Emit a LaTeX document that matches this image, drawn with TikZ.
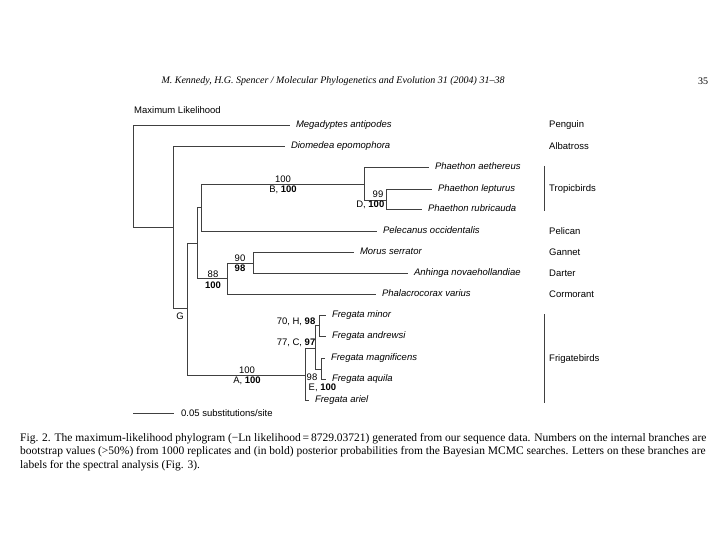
\documentclass[tikz,border=0pt]{standalone}
\usepackage{fontspec}
\setmainfont{Liberation Serif}
\setsansfont{Liberation Sans}
\usetikzlibrary{positioning}

\begin{document}
\begin{tikzpicture}[
    x=1pt, y=-1pt,
    branch/.style={draw=black!75, line width=0.75pt},
    tip/.style={anchor=west, inner sep=1pt, outer xsep=5pt, text height=6.8pt, text depth=2pt,
      font=\sffamily\itshape\fontsize{9.5}{11}\selectfont},
    lbl/.style={inner sep=0.5pt, font=\sffamily\fontsize{9.5}{11}\selectfont},
    group/.style={anchor=west, inner sep=0pt, font=\sffamily\fontsize{9.5}{11}\selectfont},
    bar/.style={draw=black!75, line width=0.8pt}
  ]
  \useasboundingbox[fill=white] (0,0) rectangle (720,540);

  % running head
  \node[font=\itshape\fontsize{10}{12}\selectfont] (head) at (333,81)
    {M. Kennedy, H.G. Spencer / Molecular Phylogenetics and Evolution 31 (2004) 31--38};
  \node[font=\fontsize{10}{12}\selectfont] (page) at (703,81) {35};
  \node[group] (title) at (134,110) {Maximum Likelihood};

  % internal nodes
  \coordinate (root) at (133,227);
  \coordinate (n2) at (173,227);
  \coordinate (nG) at (187,308);
  \coordinate (nCore) at (197,243);
  \coordinate (nTP) at (201,207);
  \coordinate (nB) at (364,184);
  \coordinate (nD) at (386,200);
  \coordinate (nSC) at (227,278);
  \coordinate (nMA) at (253,263);
  \coordinate (nE) at (305,375);
  \coordinate (nC) at (315,348);
  \coordinate (nH) at (319,325);
  \coordinate (nM) at (321,369);

  % tips
  \node[tip] (megad) at (290,125) {Megadyptes antipodes};
  \node[tip] (diom) at (285,146) {Diomedea epomophora};
  \node[tip] (aeth) at (429,167) {Phaethon aethereus};
  \node[tip] (lept) at (432,189) {Phaethon lepturus};
  \node[tip] (rubr) at (422,209) {Phaethon rubricauda};
  \node[tip] (pele) at (377,231) {Pelecanus occidentalis};
  \node[tip] (morus) at (354,252) {Morus serrator};
  \node[tip] (anh) at (408,273) {Anhinga novaehollandiae};
  \node[tip] (phal) at (376,294) {Phalacrocorax varius};
  \node[tip] (minor) at (326,315) {Fregata minor};
  \node[tip] (andr) at (326,336) {Fregata andrewsi};
  \node[tip] (magn) at (325,358) {Fregata magnificens};
  \node[tip] (aquila) at (326,379) {Fregata aquila};
  \node[tip] (ariel) at (309,400) {Fregata ariel};

  % branches
  \draw[branch] (root) |- (megad.west);
  \draw[branch] (root) -- (n2);
  \draw[branch] (n2) |- (diom.west);
  \draw[branch] (n2) |- (nG);
  \draw[branch] (nG) |- (nCore);
  \draw[branch] (nG) |- (nE);
  \draw[branch] (nCore) |- (nTP);
  \draw[branch] (nCore) |- (nSC);
  \draw[branch] (nTP) |- (nB);
  \draw[branch] (nTP) |- (pele.west);
  \draw[branch] (nB) |- (aeth.west);
  \draw[branch] (nB) |- (nD);
  \draw[branch] (nD) |- (lept.west);
  \draw[branch] (nD) |- (rubr.west);
  \draw[branch] (nSC) |- (nMA);
  \draw[branch] (nSC) |- (phal.west);
  \draw[branch] (nMA) |- (morus.west);
  \draw[branch] (nMA) |- (anh.west);
  \draw[branch] (nE) |- (nC);
  \draw[branch] (nE) |- (ariel.west);
  \draw[branch] (nC) |- (nH);
  \draw[branch] (nC) |- (nM);
  \draw[branch] (nH) |- (minor.west);
  \draw[branch] (nH) |- (andr.west);
  \draw[branch] (nM) |- (magn.west);
  \draw[branch] (nM) |- (aquila.west);

  % support values
  \node[lbl] (bsB) at (283,179) {100};
  \node[lbl] (ppB) at (283,190) {B, \textbf{100}};
  \node[lbl,anchor=east] (bsD) at (384,194) {99};
  \node[lbl,anchor=east] (ppD) at (385,205) {D, \textbf{100}};
  \node[lbl] (bsMA) at (240,258) {90};
  \node[lbl] (ppMA) at (240,268) {\textbf{98}};
  \node[lbl] (bsSC) at (213,274) {88};
  \node[lbl] (ppSC) at (213,285) {\textbf{100}};
  \node[lbl] (lblG) at (180,316) {G};
  \node[lbl] (bsA) at (247,370) {100};
  \node[lbl] (ppA) at (247,381) {A, \textbf{100}};
  \node[lbl,anchor=east] (lblH) at (316,322) {70, H, \textbf{98}};
  \node[lbl,anchor=east] (lblC) at (316,343) {77, C, \textbf{97}};
  \node[lbl,anchor=east] (bsE) at (318,377) {98};
  \node[lbl,anchor=west] (ppE) at (308,388) {E, \textbf{100}};

  % common names
  \node[group] (peng) at (549,125) {Penguin};
  \node[group] (alba) at (549,146) {Albatross};
  \node[group] (trop) at (549,189) {Tropicbirds};
  \node[group] (pelc) at (549,231) {Pelican};
  \node[group] (gann) at (549,252) {Gannet};
  \node[group] (dart) at (549,273) {Darter};
  \node[group] (corm) at (549,294) {Cormorant};
  \node[group] (frig) at (549,359) {Frigatebirds};
  \coordinate (tb1) at (544,166);
  \coordinate (tb2) at (544,211);
  \coordinate (fb1) at (544,314);
  \coordinate (fb2) at (544,403);
  \draw[bar] (tb1) -- (tb2);
  \draw[bar] (fb1) -- (fb2);

  % scale bar
  \coordinate (sb) at (133,413);
  \node[group] (scale) at (181,413) {0.05 substitutions/site};
  \draw[branch] (sb) -- ([xshift=-7pt]scale.west);

  % caption
  \node[anchor=north west, inner sep=0pt, align=left, font=\fontsize{11.5}{13.5}\selectfont] (caption) at (20,433)
    {Fig. 2. The maximum-likelihood phylogram (−Ln likelihood\,=\,8729.03721) generated from our sequence data. Numbers on the internal branches are\\
     bootstrap values (>50\%) from 1000 replicates and (in bold) posterior probabilities from the Bayesian MCMC searches. Letters on these branches are\\
     labels for the spectral analysis (Fig. 3).};
\end{tikzpicture}
\end{document}
